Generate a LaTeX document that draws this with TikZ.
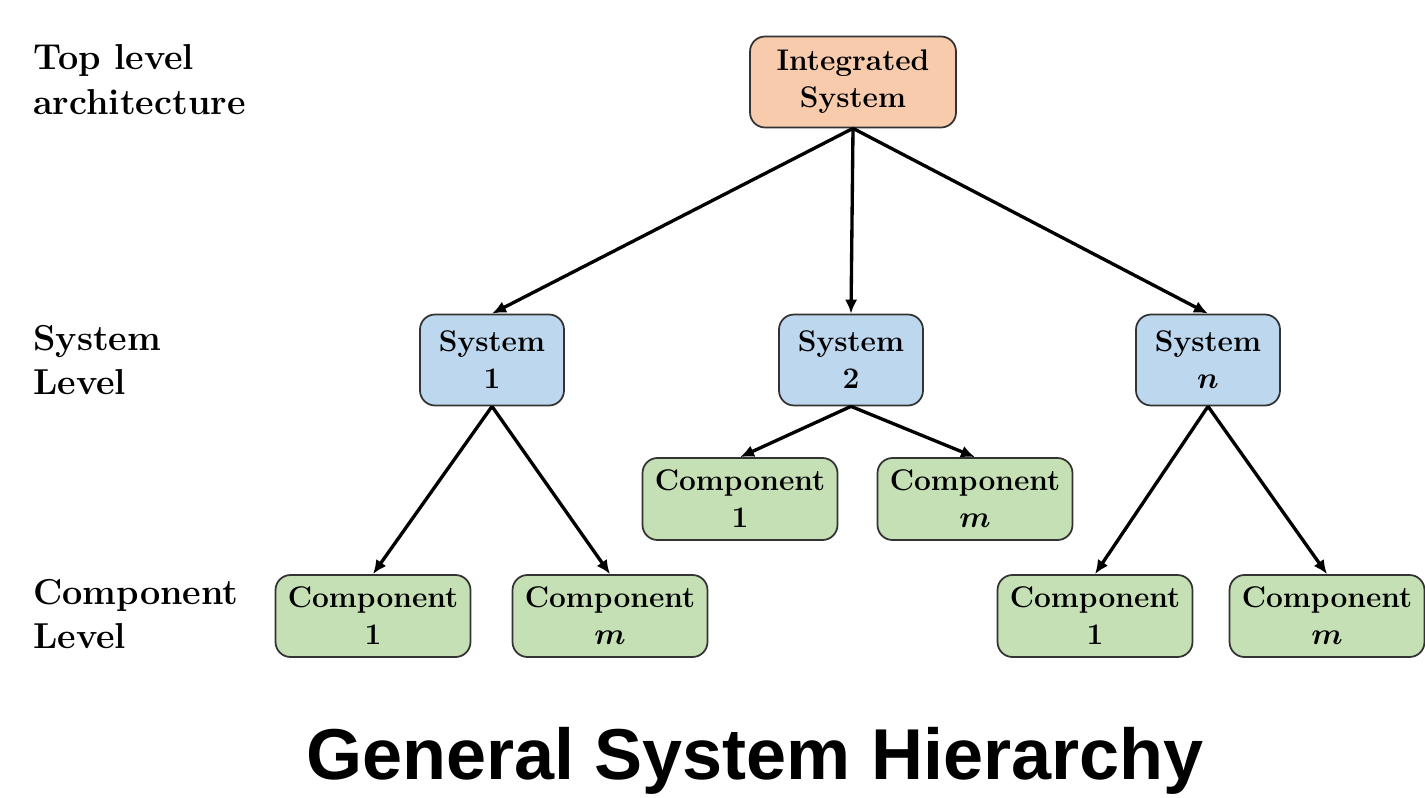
\documentclass[tikz,border=0pt]{standalone}
\usepackage{amsmath}
\usepackage{fontspec}
\usepackage{tikz}
\usepackage{xcolor}
\usetikzlibrary{arrows.meta}
\newfontfamily\titlefont{Liberation Sans}
\definecolor{topfill}{HTML}{F8CBAD}
\definecolor{sysfill}{HTML}{BDD7EE}
\definecolor{compfill}{HTML}{C5E0B4}

\begin{document}
\begin{tikzpicture}[x=0.02cm,y=-0.02cm,>={Latex[length=8pt,width=7pt]},
  box/.style={draw=black!80,line width=1pt,rounded corners=0.3cm,align=center,
    inner sep=0pt,font=\fontsize{17}{21}\selectfont\bfseries\boldmath},
  topbox/.style={box,fill=topfill,minimum width=4.12cm,minimum height=1.82cm},
  sysbox/.style={box,fill=sysfill,minimum width=2.88cm,minimum height=1.82cm},
  compbox/.style={box,fill=compfill,minimum width=3.9cm,minimum height=1.64cm},
  lvl/.style={anchor=west,align=left,font=\fontsize{20.5}{25.5}\selectfont\bfseries},
  link/.style={->,line width=1.9pt}]
  \useasboundingbox (0,0) rectangle (1425,797);

  % level labels
  \node[lvl] (lvltop) at (27,80) {Top level\\architecture};
  \node[lvl] (lvlsys) at (27,360) {System\\Level};
  \node[lvl] (lvlcomp) at (27,614) {Component\\Level};

  % tree
  \node[topbox] (top) at (853,82) {Integrated\\System};
  \node[sysbox] (sysA) at (492,360) {System\\1};
  \node[sysbox] (sysB) at (851,360) {System\\2};
  \node[sysbox] (sysN) at (1208,360) {System\\$n$};
  \node[compbox] (sysAone) at (373,616) {Component\\1};
  \node[compbox] (sysAm) at (610,616) {Component\\$m$};
  \node[compbox] (sysBone) at (740,499) {Component\\1};
  \node[compbox] (sysBm) at (975,499) {Component\\$m$};
  \node[compbox] (sysNone) at (1095,616) {Component\\1};
  \node[compbox] (sysNm) at (1327,616) {Component\\$m$};

  \foreach \a/\b in {top/sysA,top/sysB,top/sysN,sysA/sysAone,sysA/sysAm,
    sysB/sysBone,sysB/sysBm,sysN/sysNone,sysN/sysNm}
    \draw[link] (\a.south) -- (\b.north);

  \node[anchor=base,font=\titlefont\fontsize{41}{48}\selectfont\bfseries] (title)
    at (755,779) {General System Hierarchy};
\end{tikzpicture}
\end{document}
